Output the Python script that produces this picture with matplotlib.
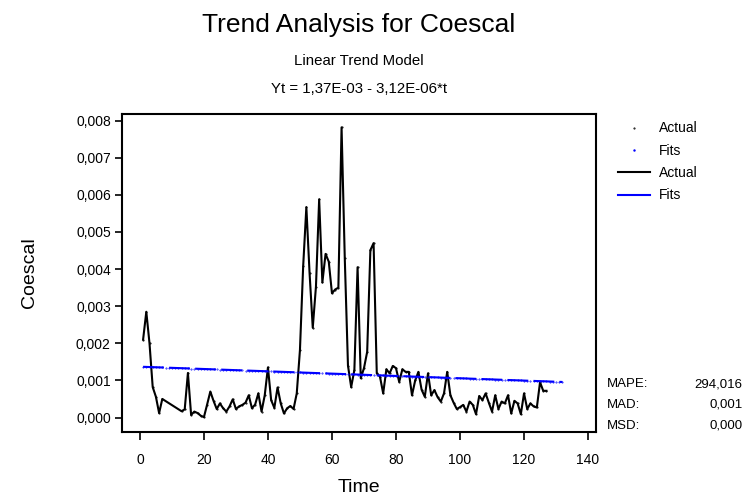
import numpy as np
import matplotlib.pyplot as plt
from matplotlib.lines import Line2D
from matplotlib.ticker import FuncFormatter

plt.rcParams['font.family'] = ['Liberation Sans', 'DejaVu Sans']

# Coescal series (x 1e-3), missing observations as nan
coescal_e3 = [
    2.10, 2.85, 2.00, 0.82, 0.56, 0.12, 0.50, np.nan, np.nan, np.nan,
    np.nan, np.nan, 0.17, 0.22, 1.20, 0.07, 0.16, 0.12, 0.05, 0.01,
    0.35, 0.70, 0.45, 0.23, 0.38, 0.25, 0.16, 0.30, 0.49, 0.23,
    0.30, 0.34, 0.40, 0.60, 0.25, 0.35, 0.65, 0.16, 0.60, 1.35,
    0.47, 0.26, 0.81, 0.38, 0.11, 0.25, 0.31, 0.23, 0.65, 1.82,
    4.07, 5.67, 3.90, 2.42, 3.53, 5.88, 3.64, 4.41, 4.20, 3.35,
    3.45, 3.50, 7.82, 4.30, 1.40, 0.82, 1.28, 4.05, 1.06, 1.33,
    1.77, 4.51, 4.70, 1.19, 1.10, 0.65, 1.30, 1.19, 1.39, 1.33,
    0.96, 1.30, 1.23, 1.23, 0.60, 1.00, 1.23, 0.75, 0.56, 1.19,
    0.60, 0.74, 0.55, 0.43, 0.65, 1.23, 0.60, 0.40, 0.23, 0.28,
    0.34, 0.16, 0.43, 0.34, 0.09, 0.58, 0.47, 0.65, 0.40, 0.16,
    0.60, 0.23, 0.43, 0.38, 0.60, 0.11, 0.45, 0.38, 0.09, 0.65,
    0.23, 0.38, 0.30, 0.27, 0.95, 0.72, 0.72,
]
n_fit = 132
intercept = 1.37e-3
slope = -3.12e-6
accuracy = [("MAPE:", "294,016"), ("MAD:", "0,001"), ("MSD:", "0,000")]

y = np.array(coescal_e3) * 1e-3
t = np.arange(1, len(y) + 1)
ok = ~np.isnan(y)
t_fit = np.arange(1, n_fit + 1)
fits = intercept + slope * t_fit

fig = plt.figure(figsize=(7.46, 4.95), dpi=100)
ax = fig.add_axes([0.1635, 0.1273, 0.6355, 0.6424])

ax.plot(t[ok], y[ok], color='black', lw=1.5, marker='.', ms=1)
ax.plot(t_fit, fits, color='blue', lw=1.5, dashes=(10, 2.5), marker='.', ms=0.8)

ax.set_xlim(-5.6, 142.5)
ax.set_ylim(-0.39e-3, 8.18e-3)
ax.set_xticks(range(0, 141, 20))
ax.set_yticks(np.arange(0, 0.0081, 0.001))
ax.yaxis.set_major_formatter(FuncFormatter(lambda v, p: f"{v:.3f}".replace('.', ',')))
ax.tick_params(direction='out', width=1.2, labelsize=10)
ax.tick_params(axis='x', length=6, pad=9)
ax.tick_params(axis='y', length=5, pad=3)
for s in ax.spines.values():
    s.set_linewidth(1.5)

ax.set_xlabel("Time", fontsize=14, labelpad=9)
ax.set_ylabel("Coescal", fontsize=14, labelpad=27)

fig.text(0.481, 0.95, "Trend Analysis for Coescal", ha='center', va='center', fontsize=19)
fig.text(0.481, 0.877, "Linear Trend Model", ha='center', va='center', fontsize=10.8)
fig.text(0.481, 0.821, "Yt = 1,37E-03 - 3,12E-06*t", ha='center', va='center', fontsize=10.8)

handles = [
    Line2D([], [], color='black', marker='.', ms=1, ls='none'),
    Line2D([], [], color='blue', marker='.', ms=1.5, ls='none'),
    Line2D([], [], color='black', lw=1.5),
    Line2D([], [], color='blue', lw=1.5),
]
fig.legend(handles, ["Actual", "Fits", "Actual", "Fits"], loc='upper left',
           bbox_to_anchor=(0.812, 0.78), frameon=False, fontsize=10,
           handlelength=2.3, labelspacing=0.6, handletextpad=0.6)

for i, (name, val) in enumerate(accuracy):
    yy = 0.224 - i * 0.042
    fig.text(0.814, yy, name, ha='left', va='center', fontsize=9.5)
    fig.text(0.995, yy, val, ha='right', va='center', fontsize=9.5)

fig.savefig("out.png", dpi=100)
